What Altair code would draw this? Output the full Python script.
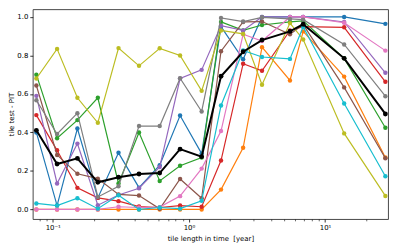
import altair as alt
import pandas as pd

# tile length in time [year]
tile_length = [0.0758, 0.1076, 0.1517, 0.2143, 0.304, 0.430, 0.610, 0.861,
               1.24, 1.72, 2.50, 3.44, 5.52, 6.90, 13.8, 27.7]

s_blue = [0.40, 0.02, 0.42, 0.06, 0.294, 0.113, 0.23, 0.488, 0.29, 0.95, 0.78, 1.0, 1.0, 1.0, 1.0, 0.964]
s_orange = [0.0, 0.0, 0.0, 0.0, 0.0, 0.0, 0.0, 0.0, 0.0, 0.103, 0.32, 0.843, 0.67, 0.925, 0.69, 0.27]
s_green = [0.70, 0.37, 0.464, 0.58, 0.135, 0.40, 0.148, 0.227, 0.27, 0.974, 0.93, 0.958, 0.974, 0.98, 0.785, 0.424]
s_red = [0.49, 0.307, 0.112, 0.06, 0.043, 0.015, 0.01, 0.02, 0.014, 0.254, 0.757, 0.72, 0.93, 0.95, 0.946, 0.663]
s_purple = [0.59, 0.135, 0.342, 0.022, 0.075, 0.11, 0.22, 0.68, 0.725, 0.955, 0.93, 1.0, 1.0, 1.0, 0.974, 0.71]
s_brown = [0.644, 0.283, 0.185, 0.16, 0.078, 0.072, 0.003, 0.158, 0.058, 0.822, 0.974, 0.976, 0.91, 0.96, 0.634, 0.266]
s_pink = [0.0, 0.0, 0.0, 0.0, 0.014, 0.01, 0.012, 0.069, 0.212, 0.407, 0.91, 0.875, 1.0, 1.0, 0.97, 0.825]
s_gray = [0.567, 0.392, 0.50, 0.065, 0.12, 0.433, 0.433, 0.682, 0.509, 0.995, 0.976, 0.998, 0.99, 0.986, 0.857, 0.588]
s_olive = [0.68, 0.834, 0.58, 0.45, 0.838, 0.746, 0.837, 0.80, 0.616, 0.93, 0.912, 0.648, 0.968, 0.883, 0.395, 0.07]
s_cyan = [0.031, 0.02, 0.058, 0.004, 0.074, 0.0, 0.01, 0.004, 0.045, 0.54, 0.826, 0.792, 0.782, 0.948, 0.55, 0.172]
s_mean = [0.411, 0.236, 0.265, 0.141, 0.167, 0.184, 0.189, 0.313, 0.274, 0.692, 0.819, 0.88, 0.925, 0.962, 0.785, 0.496]

colors = ["#1f77b4", "#ff7f0e", "#2ca02c", "#d62728", "#9467bd",
          "#8c564b", "#e377c2", "#7f7f7f", "#bcbd22", "#17becf", "#000000"]
all_series = [s_blue, s_orange, s_green, s_red, s_purple, s_brown,
              s_pink, s_gray, s_olive, s_cyan, s_mean]

major_ticks = [0.1, 1, 10]
minor_ticks = [0.08, 0.09, 0.2, 0.3, 0.4, 0.5, 0.6, 0.7, 0.8, 0.9,
               2, 3, 4, 5, 6, 7, 8, 9, 20]
y_ticks = [0.0, 0.2, 0.4, 0.6, 0.8, 1.0]

FONT = "DejaVu Sans"
xscale = alt.Scale(type="log", domain=[0.0713, 28.97], nice=False)
yscale = alt.Scale(domain=[-0.05, 1.04], nice=False, zero=False)

axis_minor = alt.Axis(orient="bottom", values=minor_ticks, labels=False, tickSize=1.8,
                      tickWidth=0.6, tickColor="#000", domain=False, grid=False, title=None)
axis_major = alt.Axis(orient="bottom", values=major_ticks, tickSize=3, tickWidth=0.8,
                      tickColor="#000", domain=False, grid=False,
                      labelExpr="datum.value < 0.5 ? '10⁻¹' : (datum.value < 5 ? '10⁰' : '10¹')",
                      labelFont=FONT, labelFontSize=7, labelColor="#000", labelPadding=2,
                      title="tile length in time\u00a0 [year]", titleFont=FONT, titleFontSize=7,
                      titleFontWeight="normal", titleColor="#000", titlePadding=4)
axis_y = alt.Axis(orient="left", values=y_ticks, format=".1f", tickSize=3, tickWidth=0.8,
                  tickColor="#000", domain=False, grid=False, labelFont=FONT, labelFontSize=7,
                  labelColor="#000", labelPadding=2,
                  title="tile test - PIT", titleFont=FONT, titleFontSize=7,
                  titleFontWeight="normal", titleColor="#000", titlePadding=2)

layers = []
for i, (vals, col) in enumerate(zip(all_series, colors)):
    df = pd.DataFrame({"x": tile_length, "y": vals})
    is_mean = (i == len(all_series) - 1)
    xa_line = axis_minor if i == 0 else (axis_major if i == 1 else None)
    ya_line = axis_y if i == 0 else None
    line = alt.Chart(df).mark_line(color=col, strokeWidth=2.0 if is_mean else 1.2).encode(
        x=alt.X("x:Q", scale=xscale, axis=xa_line),
        y=alt.Y("y:Q", scale=yscale, axis=ya_line),
    )
    pts = alt.Chart(df).mark_circle(color=col, opacity=1, size=24 if is_mean else 20).encode(
        x=alt.X("x:Q", scale=xscale, axis=None),
        y=alt.Y("y:Q", scale=yscale, axis=None),
    )
    layers += [line, pts]

chart = alt.layer(*layers).resolve_axis(x="independent", y="independent").properties(
    width=359, height=212,
    autosize=alt.AutoSizeParams(type="none"),
    padding={"left": 25, "top": 0, "right": 3, "bottom": 28},
).configure_view(stroke="#333", strokeWidth=0.9)

chart.save("out.html", embed_options={"renderer": "svg", "actions": False})
